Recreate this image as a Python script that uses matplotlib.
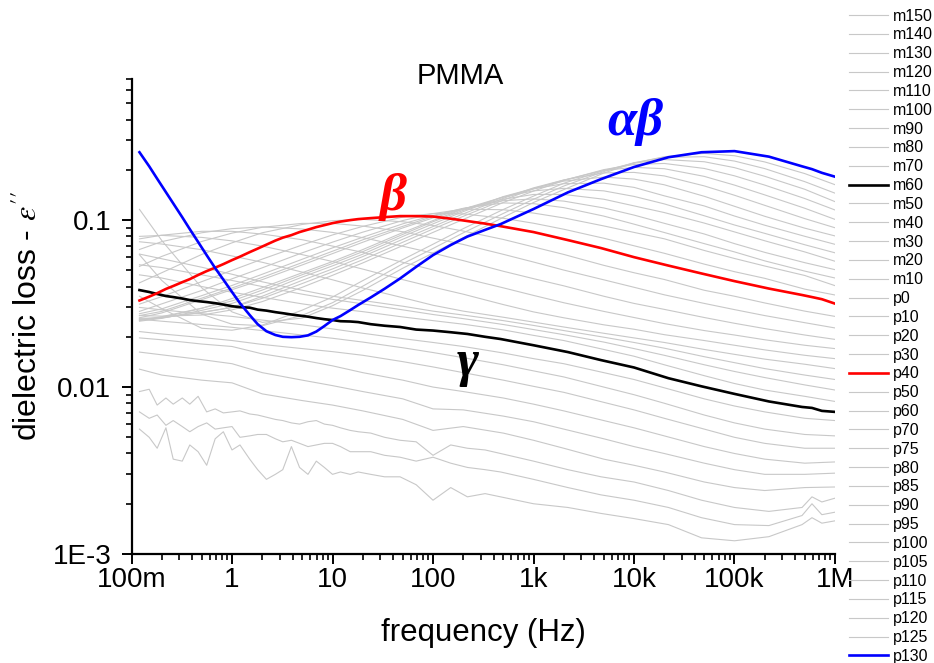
import matplotlib
matplotlib.use("Agg")
import matplotlib.pyplot as plt
from matplotlib.ticker import LogLocator, NullFormatter

plt.rcParams['font.family'] = ['Liberation Sans', 'DejaVu Sans']
plt.rcParams['mathtext.fontset'] = 'stix'

# frequency grids (Hz)
freq = [0.12, 0.2, 0.5, 1, 2, 5, 10, 20, 50, 100, 200, 500, 1e3, 2e3, 5e3,
        1e4, 2e4, 5e4, 1e5, 2e5, 5e5, 1e6]
freq_fine = [0.12, 0.15, 0.18, 0.22, 0.26, 0.32, 0.38, 0.46, 0.56, 0.68, 0.82,
             1.0, 1.2, 1.5, 1.8, 2.2, 2.7, 3.2, 3.9, 4.7, 5.7, 6.9, 8.3,
             10, 12, 15, 18, 24, 33, 47, 68, 100, 150, 220, 330, 470,
             1e3, 2.2e3, 4.7e3, 1e4, 2.2e4, 4.7e4, 1e5, 2.2e5, 4.7e5, 5.9e5, 7.4e5, 1e6]

# dielectric loss eps'' per temperature (fine grid)
m150 = [0.0056, 0.0050, 0.0043, 0.0057, 0.0037, 0.0036, 0.0045, 0.0041, 0.0034, 0.0049, 0.0054,
        0.0042, 0.0045, 0.0037, 0.0032, 0.0028, 0.0030, 0.0032, 0.0044, 0.0033, 0.0030, 0.0036, 0.0033,
        0.0030, 0.0031, 0.0030, 0.0031, 0.0030, 0.0029, 0.0029, 0.0026, 0.0021, 0.0025, 0.0022, 0.0023, 0.0022,
        0.0020, 0.0019, 0.00175, 0.00163, 0.0015, 0.00125, 0.0012, 0.00127, 0.0015, 0.00165, 0.00153, 0.00158]
m140 = [0.0071, 0.0065, 0.0068, 0.0059, 0.0063, 0.0058, 0.0054, 0.0058, 0.0061, 0.0056, 0.0057,
        0.0058, 0.0050, 0.0051, 0.0052, 0.0052, 0.0049, 0.0047, 0.0048, 0.0046, 0.0044, 0.0045, 0.0046,
        0.0046, 0.0044, 0.0041, 0.0041, 0.0041, 0.0039, 0.0038, 0.0036, 0.0038, 0.0035, 0.0033, 0.0032, 0.0031,
        0.0028, 0.0025, 0.00226, 0.0021, 0.0019, 0.00165, 0.0015, 0.00148, 0.0017, 0.0020, 0.00172, 0.00178]
m130 = [0.0094, 0.0097, 0.0078, 0.0086, 0.0079, 0.0086, 0.0079, 0.0088, 0.0071, 0.0074, 0.0070,
        0.0071, 0.0072, 0.0069, 0.0068, 0.0066, 0.0064, 0.0063, 0.0061, 0.0060, 0.0062, 0.0063, 0.0060,
        0.0059, 0.0057, 0.0055, 0.0054, 0.0053, 0.0050, 0.0048, 0.0047, 0.0039, 0.0045, 0.0043, 0.0042, 0.0040,
        0.0036, 0.0032, 0.0029, 0.0027, 0.0024, 0.0021, 0.0019, 0.0018, 0.0019, 0.0022, 0.00205, 0.00216]
m60 = [0.0381, 0.0371, 0.0361, 0.0351, 0.0346, 0.0339, 0.0332, 0.0327, 0.0323, 0.0318, 0.0312,
       0.0305, 0.0301, 0.0299, 0.0291, 0.0287, 0.0281, 0.0277, 0.0272, 0.0268, 0.0264, 0.0259, 0.0255,
       0.0252, 0.0248, 0.0247, 0.0245, 0.0238, 0.0233, 0.0229, 0.0221, 0.0218, 0.0213, 0.0208, 0.0200, 0.0194,
       0.0178, 0.0162, 0.0145, 0.0131, 0.0113, 0.0101, 0.0091, 0.0082, 0.0076, 0.0075, 0.0072, 0.0071]
p40 = [0.0330, 0.0348, 0.0365, 0.0387, 0.0403, 0.0425, 0.0443, 0.0469, 0.0495, 0.0519, 0.0545,
       0.0576, 0.0604, 0.0643, 0.0675, 0.0713, 0.0754, 0.0785, 0.0813, 0.0848, 0.0877, 0.0908, 0.0933,
       0.0959, 0.0980, 0.1000, 0.1014, 0.1028, 0.1042, 0.1057, 0.1057, 0.1050, 0.1020, 0.0987, 0.0953, 0.0920,
       0.0848, 0.0759, 0.0680, 0.0600, 0.0534, 0.0479, 0.0431, 0.0389, 0.0356, 0.0346, 0.0336, 0.0316]
p130 = [0.255, 0.210, 0.177, 0.147, 0.126, 0.104, 0.0883, 0.0740, 0.0616, 0.0516, 0.0440,
        0.0371, 0.0318, 0.0270, 0.0238, 0.0216, 0.0205, 0.0200, 0.0199, 0.0200, 0.0204, 0.0215, 0.0232,
        0.0252, 0.0266, 0.0289, 0.0310, 0.0344, 0.0388, 0.0447, 0.0525, 0.0617, 0.0709, 0.0797, 0.0874, 0.0946,
        0.1165, 0.1466, 0.176, 0.208, 0.238, 0.255, 0.259, 0.240, 0.210, 0.202, 0.192, 0.182]

# coarse grid
m120 = [0.0128, 0.0118, 0.0110, 0.0106, 0.0091, 0.0083, 0.0078, 0.0072, 0.0064, 0.0055, 0.0058,
        0.0053, 0.0048, 0.0043, 0.0037, 0.0034, 0.0031, 0.0027, 0.0025, 0.0024, 0.0025, 0.00252]
m110 = [0.0162, 0.0156, 0.0146, 0.0138, 0.0122, 0.0110, 0.0102, 0.0094, 0.0085, 0.0074, 0.0073,
        0.0067, 0.0062, 0.0056, 0.0049, 0.0044, 0.0040, 0.0035, 0.0032, 0.0030, 0.0030, 0.00305]
m100 = [0.0197, 0.0192, 0.0181, 0.0175, 0.0158, 0.0145, 0.0134, 0.0122, 0.0110, 0.0100, 0.0094,
        0.0086, 0.0079, 0.0072, 0.0063, 0.0057, 0.0051, 0.0044, 0.0040, 0.0037, 0.0035, 0.00356]
m90 = [0.0215, 0.0208, 0.0198, 0.0190, 0.0180, 0.0170, 0.0163, 0.0155, 0.0142, 0.0132, 0.0122,
       0.0110, 0.0101, 0.0093, 0.0081, 0.0073, 0.0065, 0.0056, 0.0050, 0.0046, 0.0043, 0.0043]
m80 = [0.0255, 0.0248, 0.0237, 0.0228, 0.0218, 0.0205, 0.0196, 0.0186, 0.0172, 0.0161, 0.0150,
       0.0136, 0.0125, 0.0115, 0.0100, 0.0090, 0.0080, 0.0068, 0.0061, 0.0056, 0.0052, 0.0051]
m70 = [0.0300, 0.0290, 0.0275, 0.0265, 0.0252, 0.0236, 0.0223, 0.0210, 0.0195, 0.0185, 0.0175,
       0.0160, 0.0148, 0.0138, 0.0122, 0.0111, 0.0099, 0.0085, 0.0077, 0.0071, 0.0065, 0.0063]
m50 = [0.047, 0.045, 0.040, 0.037, 0.0345, 0.0315, 0.0297, 0.0283, 0.0263, 0.0250, 0.0238,
       0.0220, 0.0204, 0.0190, 0.0168, 0.0153, 0.0136, 0.0117, 0.0105, 0.0096, 0.0088, 0.0082]
m40 = [0.054, 0.052, 0.047, 0.0435, 0.040, 0.036, 0.0335, 0.0315, 0.0290, 0.0272, 0.0257,
       0.0237, 0.0221, 0.0206, 0.0186, 0.0170, 0.0155, 0.0136, 0.0124, 0.0114, 0.0103, 0.0096]
m30 = [0.0626, 0.0587, 0.0522, 0.0474, 0.0427, 0.0380, 0.0350, 0.0330, 0.0305, 0.0285, 0.0270,
       0.0250, 0.0234, 0.0218, 0.0199, 0.0185, 0.0171, 0.0152, 0.0140, 0.0129, 0.0118, 0.0111]
m20 = [0.0742, 0.0719, 0.0665, 0.0610, 0.0559, 0.0488, 0.0439, 0.0392, 0.0343, 0.0309, 0.0285,
       0.0262, 0.0245, 0.0229, 0.0210, 0.0197, 0.0185, 0.0168, 0.0157, 0.0147, 0.0137, 0.0129]
m10 = [0.0799, 0.0810, 0.0788, 0.0751, 0.0699, 0.0621, 0.0565, 0.0509, 0.0440, 0.0397, 0.0360,
       0.0312, 0.0282, 0.0260, 0.0236, 0.0222, 0.0206, 0.0190, 0.0178, 0.0167, 0.0155, 0.0148]
p0 = [0.0772, 0.0812, 0.0857, 0.0857, 0.0825, 0.0763, 0.0699, 0.0641, 0.0559, 0.0503, 0.0449,
      0.0393, 0.0354, 0.0320, 0.0284, 0.0261, 0.0240, 0.0218, 0.0205, 0.0192, 0.0178, 0.0170]
p10 = [0.0667, 0.0743, 0.0840, 0.0889, 0.0910, 0.0885, 0.0844, 0.0785, 0.0698, 0.0634, 0.0572,
       0.0494, 0.0446, 0.0404, 0.0350, 0.0317, 0.0292, 0.0261, 0.0241, 0.0224, 0.0205, 0.0193]
p20 = [0.0528, 0.0606, 0.0745, 0.0836, 0.0906, 0.0956, 0.0956, 0.0921, 0.0852, 0.0780, 0.0715,
       0.0624, 0.0561, 0.0502, 0.0439, 0.0396, 0.0357, 0.0317, 0.0291, 0.0268, 0.0243, 0.0226]
p30 = [0.0421, 0.0484, 0.0623, 0.0731, 0.0840, 0.0942, 0.0992, 0.1010, 0.0978, 0.0929, 0.0860,
       0.0766, 0.0691, 0.0623, 0.0536, 0.0484, 0.0441, 0.0380, 0.0350, 0.0319, 0.0285, 0.0265]
p50 = [0.0314, 0.0348, 0.0428, 0.0500, 0.0584, 0.0710, 0.0815, 0.0917, 0.1043, 0.1095, 0.1090,
       0.1026, 0.0958, 0.0882, 0.0779, 0.0702, 0.0633, 0.0545, 0.0491, 0.0448, 0.0386, 0.0356]
p60 = [0.0284, 0.0315, 0.0379, 0.0445, 0.0518, 0.0637, 0.0738, 0.0847, 0.0994, 0.1094, 0.1163,
       0.1154, 0.1102, 0.1031, 0.0923, 0.0844, 0.0773, 0.0658, 0.0589, 0.0531, 0.0466, 0.0405]
p70 = [0.0275, 0.0294, 0.0353, 0.0406, 0.0474, 0.0583, 0.0682, 0.0790, 0.0950, 0.1066, 0.1177,
       0.1267, 0.1255, 0.1188, 0.1057, 0.0946, 0.0843, 0.0723, 0.0645, 0.0570, 0.0495, 0.0450]
p75 = [0.0268, 0.0284, 0.0341, 0.0392, 0.0454, 0.0557, 0.0651, 0.0762, 0.0918, 0.1052, 0.1172,
       0.1307, 0.1340, 0.1300, 0.1183, 0.1072, 0.0957, 0.0826, 0.0723, 0.0641, 0.0556, 0.0505]
p80 = [0.0260, 0.0278, 0.0334, 0.0383, 0.0440, 0.0539, 0.0630, 0.0737, 0.0898, 0.1031, 0.1165,
       0.1334, 0.1425, 0.1425, 0.1334, 0.1217, 0.1110, 0.0960, 0.0850, 0.0752, 0.0645, 0.0567]
p85 = [0.0255, 0.0261, 0.0296, 0.0339, 0.0394, 0.0484, 0.0565, 0.0666, 0.0842, 0.0994, 0.1165,
       0.1375, 0.1497, 0.1550, 0.1497, 0.1387, 0.1251, 0.1062, 0.0935, 0.0833, 0.0712, 0.0637]
p90 = [0.0250, 0.0264, 0.0297, 0.0328, 0.0381, 0.0471, 0.0550, 0.0647, 0.0821, 0.0978, 0.1144,
       0.1372, 0.1539, 0.1653, 0.1665, 0.1571, 0.1398, 0.1216, 0.1058, 0.0932, 0.0800, 0.0716]
p95 = [0.0248, 0.0258, 0.0288, 0.0317, 0.0366, 0.0456, 0.0532, 0.0625, 0.0798, 0.0950, 0.1124,
       0.1383, 0.1548, 0.1712, 0.1810, 0.1761, 0.1628, 0.1389, 0.1210, 0.1054, 0.0895, 0.0804]
p100 = [0.0252, 0.0260, 0.0280, 0.0300, 0.0350, 0.0436, 0.0510, 0.0605, 0.0768, 0.0915, 0.1090,
        0.1350, 0.1560, 0.1740, 0.1918, 0.1931, 0.1840, 0.1603, 0.1409, 0.1226, 0.1021, 0.0900]
p105 = [0.0258, 0.0260, 0.0280, 0.0300, 0.0340, 0.0417, 0.0490, 0.0579, 0.0737, 0.0885, 0.1054,
        0.1318, 0.1541, 0.1736, 0.1986, 0.2070, 0.2032, 0.1828, 0.1621, 0.1416, 0.1178, 0.1010]
p110 = [0.0268, 0.0266, 0.0270, 0.0290, 0.0325, 0.0396, 0.0467, 0.0554, 0.0704, 0.0844, 0.1010,
        0.1275, 0.1492, 0.1728, 0.2006, 0.2155, 0.2185, 0.2039, 0.1842, 0.1621, 0.1347, 0.1150]
p115 = [0.0350, 0.0295, 0.0225, 0.0219, 0.0235, 0.0289, 0.0346, 0.0434, 0.0580, 0.0717, 0.0889,
        0.1158, 0.1393, 0.1662, 0.1980, 0.2197, 0.2305, 0.2237, 0.2062, 0.1830, 0.1530, 0.1290]
p120 = [0.0620, 0.0435, 0.0273, 0.0238, 0.0233, 0.0269, 0.0320, 0.0402, 0.0548, 0.0676, 0.0839,
        0.1096, 0.1333, 0.1600, 0.1953, 0.2207, 0.2376, 0.2398, 0.2258, 0.2035, 0.1700, 0.1450]
p125 = [0.1160, 0.0755, 0.0393, 0.0282, 0.0244, 0.0259, 0.0307, 0.0379, 0.0515, 0.0635, 0.0785,
        0.1039, 0.1275, 0.1523, 0.1913, 0.2196, 0.2397, 0.2510, 0.2430, 0.2231, 0.1900, 0.1630]

labels = ['m150', 'm140', 'm130', 'm120', 'm110', 'm100', 'm90', 'm80', 'm70', 'm60',
          'm50', 'm40', 'm30', 'm20', 'm10', 'p0', 'p10', 'p20', 'p30', 'p40', 'p50',
          'p60', 'p70', 'p75', 'p80', 'p85', 'p90', 'p95', 'p100', 'p105', 'p110',
          'p115', 'p120', 'p125', 'p130']

series = {
    'm150': (freq_fine, m150), 'm140': (freq_fine, m140), 'm130': (freq_fine, m130),
    'm120': (freq, m120), 'm110': (freq, m110), 'm100': (freq, m100), 'm90': (freq, m90),
    'm80': (freq, m80), 'm70': (freq, m70), 'm60': (freq_fine, m60), 'm50': (freq, m50),
    'm40': (freq, m40), 'm30': (freq, m30), 'm20': (freq, m20), 'm10': (freq, m10),
    'p0': (freq, p0), 'p10': (freq, p10), 'p20': (freq, p20), 'p30': (freq, p30),
    'p40': (freq_fine, p40), 'p50': (freq, p50), 'p60': (freq, p60), 'p70': (freq, p70),
    'p75': (freq, p75), 'p80': (freq, p80), 'p85': (freq, p85), 'p90': (freq, p90),
    'p95': (freq, p95), 'p100': (freq, p100), 'p105': (freq, p105), 'p110': (freq, p110),
    'p115': (freq, p115), 'p120': (freq, p120), 'p125': (freq, p125), 'p130': (freq_fine, p130),
}
highlight = {'m60': 'black', 'p40': 'red', 'p130': 'blue'}

fig = plt.figure(figsize=(9.34, 6.63), dpi=100)
ax = fig.add_axes([0.1408, 0.1644, 0.7532, 0.7164])

handles = []
for name in labels:
    f, v = series[name]
    if name in highlight:
        ln, = ax.plot(f, v, color=highlight[name], lw=1.9, zorder=3)
    else:
        ln, = ax.plot(f, v, color='#c8c8c8', lw=0.8, zorder=1)
    handles.append(ln)

ax.set_xscale('log')
ax.set_yscale('log')
ax.set_xlim(0.1, 1e6)
ax.set_ylim(1e-3, 0.7)

ax.set_xticks([0.1, 1, 10, 100, 1e3, 1e4, 1e5, 1e6],
              labels=['100m', '1', '10', '100', '1k', '10k', '100k', '1M'])
ax.set_yticks([1e-3, 1e-2, 1e-1], labels=['1E-3', '0.01', '0.1'])
for axis in (ax.xaxis, ax.yaxis):
    axis.set_minor_locator(LogLocator(base=10, subs=range(2, 10), numticks=20))
    axis.set_minor_formatter(NullFormatter())

ax.spines['top'].set_visible(False)
ax.spines['right'].set_visible(False)
for s in ('left', 'bottom'):
    ax.spines[s].set_linewidth(1.6)
ax.tick_params(which='major', direction='out', length=7.5, width=1.4, labelsize=20)
ax.tick_params(axis='y', which='major', pad=7)
ax.tick_params(axis='x', which='major', pad=2)
ax.tick_params(which='minor', direction='out', length=4, width=1.2)

ax.set_xlabel('frequency (Hz)', fontsize=22.5)
ax.set_ylabel("dielectric loss - $\\varepsilon''$", fontsize=23)
ax.xaxis.set_label_coords(0.5, -0.135)
ax.yaxis.set_label_coords(-0.125, 0.50)

ax.text(0.467, 0.99, 'PMMA', transform=ax.transAxes, ha='center', va='baseline', fontsize=21)

greek = dict(family='Liberation Serif', style='italic', weight='bold', fontsize=38,
             ha='center', va='center')
ax.text(40, 0.137, 'β', color='red', **greek)
ax.text(1.02e4, 0.386, 'αβ', color='blue', **greek)
ax.text(223, 0.0139, 'γ', color='black', **greek)

fig.legend(handles, labels, loc='upper left', bbox_to_anchor=(0.909, 0.987),
           frameon=False, fontsize=11.5, handlelength=2.45, handletextpad=0.3,
           labelspacing=0.24, borderaxespad=0, borderpad=0)

fig.savefig('out.png', dpi=100)
